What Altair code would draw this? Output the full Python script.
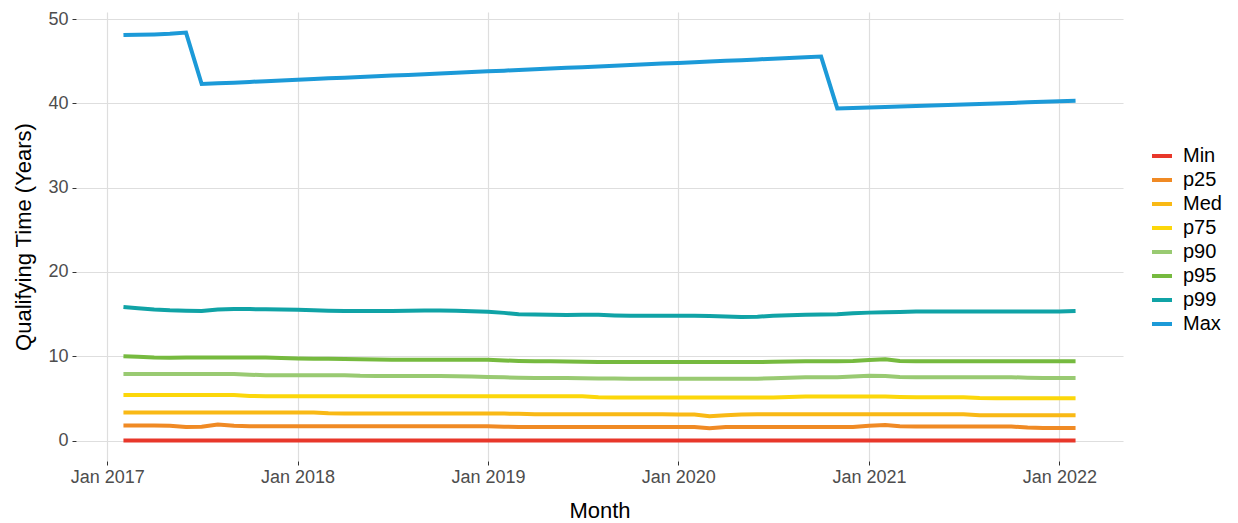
import altair as alt
import pandas as pd

months = pd.date_range("2017-02-01", "2022-02-01", freq="MS").strftime("%Y-%m-%dT00:00:00").tolist()

series_names = ["Min", "p25", "Med", "p75", "p90", "p95", "p99", "Max"]
series_colors = ["#E8372A", "#F08A24", "#F9B915", "#FCD70A", "#99CA72", "#76BA3F", "#10A3A6", "#1C9AD8"]

v_min = [0.0] * 61

v_p25 = [1.80, 1.80, 1.78, 1.75, 1.60, 1.65, 1.92, 1.75, 1.70, 1.70,
         1.70, 1.70, 1.70, 1.70, 1.70, 1.70, 1.70, 1.70, 1.70, 1.70,
         1.70, 1.70, 1.70, 1.70, 1.65, 1.62, 1.62, 1.62, 1.62, 1.62,
         1.62, 1.62, 1.62, 1.62, 1.62, 1.62, 1.62, 1.48, 1.62, 1.62,
         1.62, 1.62, 1.62, 1.62, 1.62, 1.62, 1.62, 1.75, 1.85, 1.70,
         1.68, 1.68, 1.68, 1.68, 1.68, 1.68, 1.68, 1.55, 1.50, 1.50,
         1.50]

v_med = [3.32, 3.32, 3.32, 3.32, 3.32, 3.32, 3.32, 3.32, 3.32, 3.32,
         3.32, 3.32, 3.32, 3.25, 3.22, 3.22, 3.22, 3.22, 3.22, 3.22,
         3.20, 3.20, 3.20, 3.20, 3.20, 3.18, 3.12, 3.12, 3.12, 3.12,
         3.12, 3.12, 3.12, 3.12, 3.12, 3.10, 3.10, 2.90, 3.00, 3.10,
         3.12, 3.12, 3.12, 3.12, 3.12, 3.12, 3.12, 3.12, 3.12, 3.12,
         3.12, 3.12, 3.12, 3.12, 3.02, 3.00, 3.00, 3.00, 3.00, 3.00,
         3.00]

v_p75 = [5.40, 5.40, 5.40, 5.40, 5.40, 5.40, 5.40, 5.40, 5.30, 5.25,
         5.25, 5.25, 5.25, 5.25, 5.25, 5.25, 5.25, 5.25, 5.25, 5.25,
         5.25, 5.25, 5.25, 5.25, 5.25, 5.25, 5.25, 5.25, 5.25, 5.25,
         5.15, 5.12, 5.12, 5.12, 5.12, 5.12, 5.12, 5.12, 5.12, 5.12,
         5.12, 5.12, 5.18, 5.22, 5.22, 5.22, 5.22, 5.22, 5.22, 5.18,
         5.13, 5.13, 5.13, 5.13, 5.05, 5.02, 5.02, 5.02, 5.02, 5.02,
         5.02]

v_p90 = [7.90, 7.90, 7.90, 7.90, 7.90, 7.90, 7.90, 7.90, 7.82, 7.75,
         7.75, 7.75, 7.75, 7.75, 7.75, 7.68, 7.65, 7.65, 7.65, 7.65,
         7.65, 7.62, 7.60, 7.55, 7.50, 7.45, 7.42, 7.42, 7.42, 7.40,
         7.38, 7.36, 7.35, 7.35, 7.35, 7.35, 7.35, 7.35, 7.35, 7.35,
         7.35, 7.40, 7.45, 7.50, 7.50, 7.52, 7.60, 7.70, 7.65, 7.55,
         7.52, 7.52, 7.52, 7.52, 7.52, 7.52, 7.52, 7.45, 7.42, 7.42,
         7.42]

v_p95 = [10.00, 9.95, 9.85, 9.82, 9.85, 9.85, 9.85, 9.85, 9.85, 9.85,
         9.80, 9.75, 9.72, 9.70, 9.68, 9.65, 9.62, 9.60, 9.60, 9.60,
         9.60, 9.60, 9.60, 9.58, 9.50, 9.45, 9.42, 9.40, 9.38, 9.35,
         9.33, 9.32, 9.32, 9.32, 9.32, 9.32, 9.32, 9.32, 9.32, 9.32,
         9.32, 9.35, 9.38, 9.42, 9.42, 9.42, 9.45, 9.55, 9.65, 9.45,
         9.42, 9.42, 9.42, 9.42, 9.42, 9.42, 9.42, 9.42, 9.42, 9.42,
         9.42]

v_p99 = [15.85, 15.70, 15.55, 15.45, 15.40, 15.38, 15.55, 15.62, 15.60, 15.58,
         15.55, 15.52, 15.45, 15.40, 15.38, 15.38, 15.38, 15.38, 15.40, 15.42,
         15.42, 15.40, 15.35, 15.28, 15.15, 15.00, 14.95, 14.92, 14.90, 14.93,
         14.92, 14.85, 14.80, 14.80, 14.80, 14.80, 14.80, 14.78, 14.72, 14.65,
         14.70, 14.80, 14.88, 14.92, 14.95, 15.00, 15.10, 15.18, 15.22, 15.26,
         15.30, 15.32, 15.32, 15.32, 15.32, 15.32, 15.32, 15.32, 15.32, 15.32,
         15.38]

v_max = [48.10, 48.15, 48.18, 48.25, 48.40, 42.30, 42.38, 42.46, 42.55, 42.63,
         42.72, 42.80, 42.88, 42.97, 43.05, 43.13, 43.22, 43.30, 43.38, 43.47,
         43.55, 43.63, 43.72, 43.80, 43.88, 43.97, 44.05, 44.13, 44.22, 44.30,
         44.38, 44.47, 44.55, 44.63, 44.72, 44.80, 44.88, 44.97, 45.05, 45.13,
         45.22, 45.30, 45.38, 45.47, 45.55, 39.40, 39.46, 39.52, 39.58, 39.64,
         39.70, 39.76, 39.82, 39.88, 39.94, 40.00, 40.06, 40.12, 40.18, 40.24,
         40.30]

y_ticks = [0, 10, 20, 30, 40, 50]
x_tick_years = [2017, 2018, 2019, 2020, 2021, 2022]

all_values = [v_min, v_p25, v_med, v_p75, v_p90, v_p95, v_p99, v_max]
rows = []
for name, vals in zip(series_names, all_values):
    for m, v in zip(months, vals):
        rows.append({"month": m, "series": name, "value": v})
df = pd.DataFrame(rows)

FONT = "Liberation Sans"

chart = alt.Chart(df).mark_line(strokeWidth=4).encode(
    x=alt.X(
        "month:T",
        title="Month",
        scale=alt.Scale(
            domain=[alt.DateTime(year=2016, month=11, date=2),
                    alt.DateTime(year=2022, month=5, date=3)],
            nice=False,
        ),
        axis=alt.Axis(
            values=[alt.DateTime(year=y, month=1, date=1) for y in x_tick_years],
            format="%b %Y",
            grid=True,
            domain=False,
            tickSize=4,
            labelPadding=3,
            titlePadding=14,
        ),
    ),
    y=alt.Y(
        "value:Q",
        title="Qualifying Time (Years)",
        scale=alt.Scale(domain=[-2.42, 50.84], nice=False, zero=False),
        axis=alt.Axis(
            values=y_ticks,
            grid=True,
            domain=False,
            tickSize=4,
            labelPadding=4,
            titlePadding=12,
        ),
    ),
    color=alt.Color(
        "series:N",
        sort=series_names,
        scale=alt.Scale(domain=series_names, range=series_colors),
        legend=alt.Legend(
            title=None,
            orient="none",
            legendX=1074,
            legendY=132,
            symbolType="stroke",
            symbolSize=400,
            symbolStrokeWidth=4,
            labelOffset=9,
            rowPadding=2,
            labelFontSize=20,
            labelFont=FONT,
            labelColor="#000000",
        ),
    ),
    order=alt.Order("month:T"),
).properties(
    width=1047,
    height=449,
    autosize=alt.AutoSizeParams(type="none"),
    padding={"left": 68, "top": 4, "right": 107, "bottom": 60},
    background="white",
).configure_view(
    stroke=None,
).configure_axis(
    labelFont=FONT,
    titleFont=FONT,
    labelFontSize=18,
    titleFontSize=22,
    titleFontWeight="normal",
    labelColor="#4D4D4D",
    titleColor="#000000",
    gridColor="#DEDEDE",
    gridWidth=1.2,
    tickColor="#333333",
    tickWidth=1,
)

chart.save("out.html", embed_options={"renderer": "svg", "actions": False})
